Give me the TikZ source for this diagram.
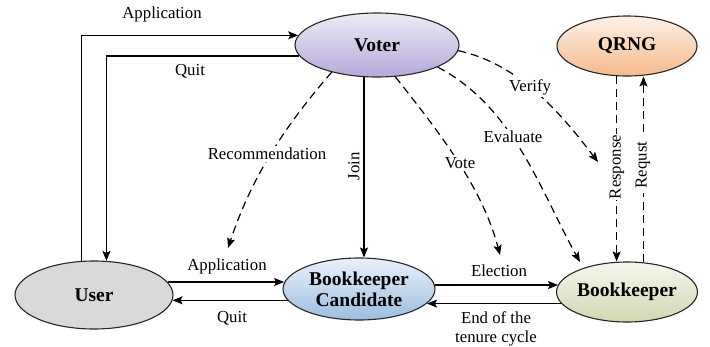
\documentclass[tikz,border=0pt]{standalone}
\usepackage{fontspec}
\setmainfont{Liberation Serif}
\usetikzlibrary{arrows.meta,shapes.geometric}
\definecolor{voterT}{HTML}{EEEBF6}
\definecolor{voterB}{HTML}{B5A9D8}
\definecolor{qrngT}{HTML}{FDF1E7}
\definecolor{qrngB}{HTML}{F4BA8C}
\definecolor{bcT}{HTML}{EAF1FA}
\definecolor{bcB}{HTML}{9CBDE0}
\definecolor{bkT}{HTML}{F5F7EE}
\definecolor{bkB}{HTML}{CFD8B0}
\definecolor{userF}{HTML}{D9D9D9}
\begin{document}
\begin{tikzpicture}[x=1pt,y=-1pt,
  ell/.style={ellipse, draw=black!85, line width=1.1pt, inner sep=0pt, align=center,
    font=\fontsize{19.5}{21}\selectfont\bfseries},
  lbl/.style={font=\fontsize{16.8}{19}\selectfont, inner sep=1pt},
  wlbl/.style={lbl, fill=white, inner sep=2pt},
  arr/.style={line width=1.2pt, -{Stealth[length=10pt,width=8pt,inset=2pt]}},
  dsh/.style={arr, dash pattern=on 8pt off 5pt}]
\useasboundingbox (0,0) rectangle (710,346);

% nodes
\node[ell, minimum width=164pt, minimum height=64pt, top color=voterT, bottom color=voterB] (voter) at (377,45) {Voter};
\node[ell, minimum width=140pt, minimum height=60pt, top color=qrngT, bottom color=qrngB] (qrng) at (627,46) {QRNG};
\node[ell, minimum width=158pt, minimum height=68pt, fill=userF] (user) at (94,295) {User};
\node[ell, minimum width=152pt, minimum height=62pt, top color=bcT, bottom color=bcB] (bc) at (359,289) {Bookkeeper\\Candidate};
\node[ell, minimum width=140pt, minimum height=60pt, top color=bkT, bottom color=bkB] (bk) at (627,292) {Bookkeeper};

% free ends
\coordinate (recEnd) at (228,248);
\coordinate (voteEnd) at (500,255);
\coordinate (evalEnd) at (580,262);
\coordinate (verEnd) at (598,162);

% solid connectors
\draw[arr] (user.110) |- (voter.173);
\draw[arr] (voter.188) -| (user.70);
\draw[arr] (voter.248) -- (voter.248 |- bc.north);
\draw[arr] (user.10) -- (user.10 -| bc.175);
\draw[arr] (bc.189) -- (bc.189 -| user.356);
\draw[arr] (bc.3) -- (bc.3 -| bk.174);
\draw[arr] (bk.190) -- (bk.190 -| bc.348);

% dashed connectors
\draw[dsh] (voter.211) .. controls (283,128) and (251,179) .. (recEnd);
\draw[dsh] (voter.300) .. controls (438,131) and (482,186) .. (voteEnd);
\draw[dsh] (voter.340) .. controls (514,107) and (541,192) .. (evalEnd);
\draw[dsh] (voter.356) .. controls (520,64) and (562,115) .. (verEnd);
\draw[dsh] (qrng.251) -- (qrng.251 |- bk.north);
\draw[dsh] (bk.61) -- (bk.61 |- qrng.south);

% labels
\node[lbl] (lapp1) at (162,14) {Application};
\node[lbl] (lquit1) at (190,71) {Quit};
\node[lbl, rotate=90] (ljoin) at (354,166) {Join};
\node[wlbl] (lrec) at (267,154) {Recommendation};
\node[wlbl] (lvote) at (460,163) {Vote};
\node[wlbl] (leval) at (513,137) {Evaluate};
\node[wlbl] (lver) at (530,87) {Verify};
\node[lbl, fill=white, rotate=90, inner sep=1pt] (lresp) at (617,167) {Response};
\node[lbl, fill=white, rotate=90, inner xsep=5pt, inner ysep=1pt] (lreq) at (643,165) {Requst};
\node[lbl] (lapp2) at (227,266) {Application};
\node[lbl] (lquit2) at (232,318) {Quit};
\node[lbl] (lelec) at (499,271) {Election};
\node[lbl, align=center] (lend) at (496,329) {End of the\\tenure cycle};
\end{tikzpicture}
\end{document}
